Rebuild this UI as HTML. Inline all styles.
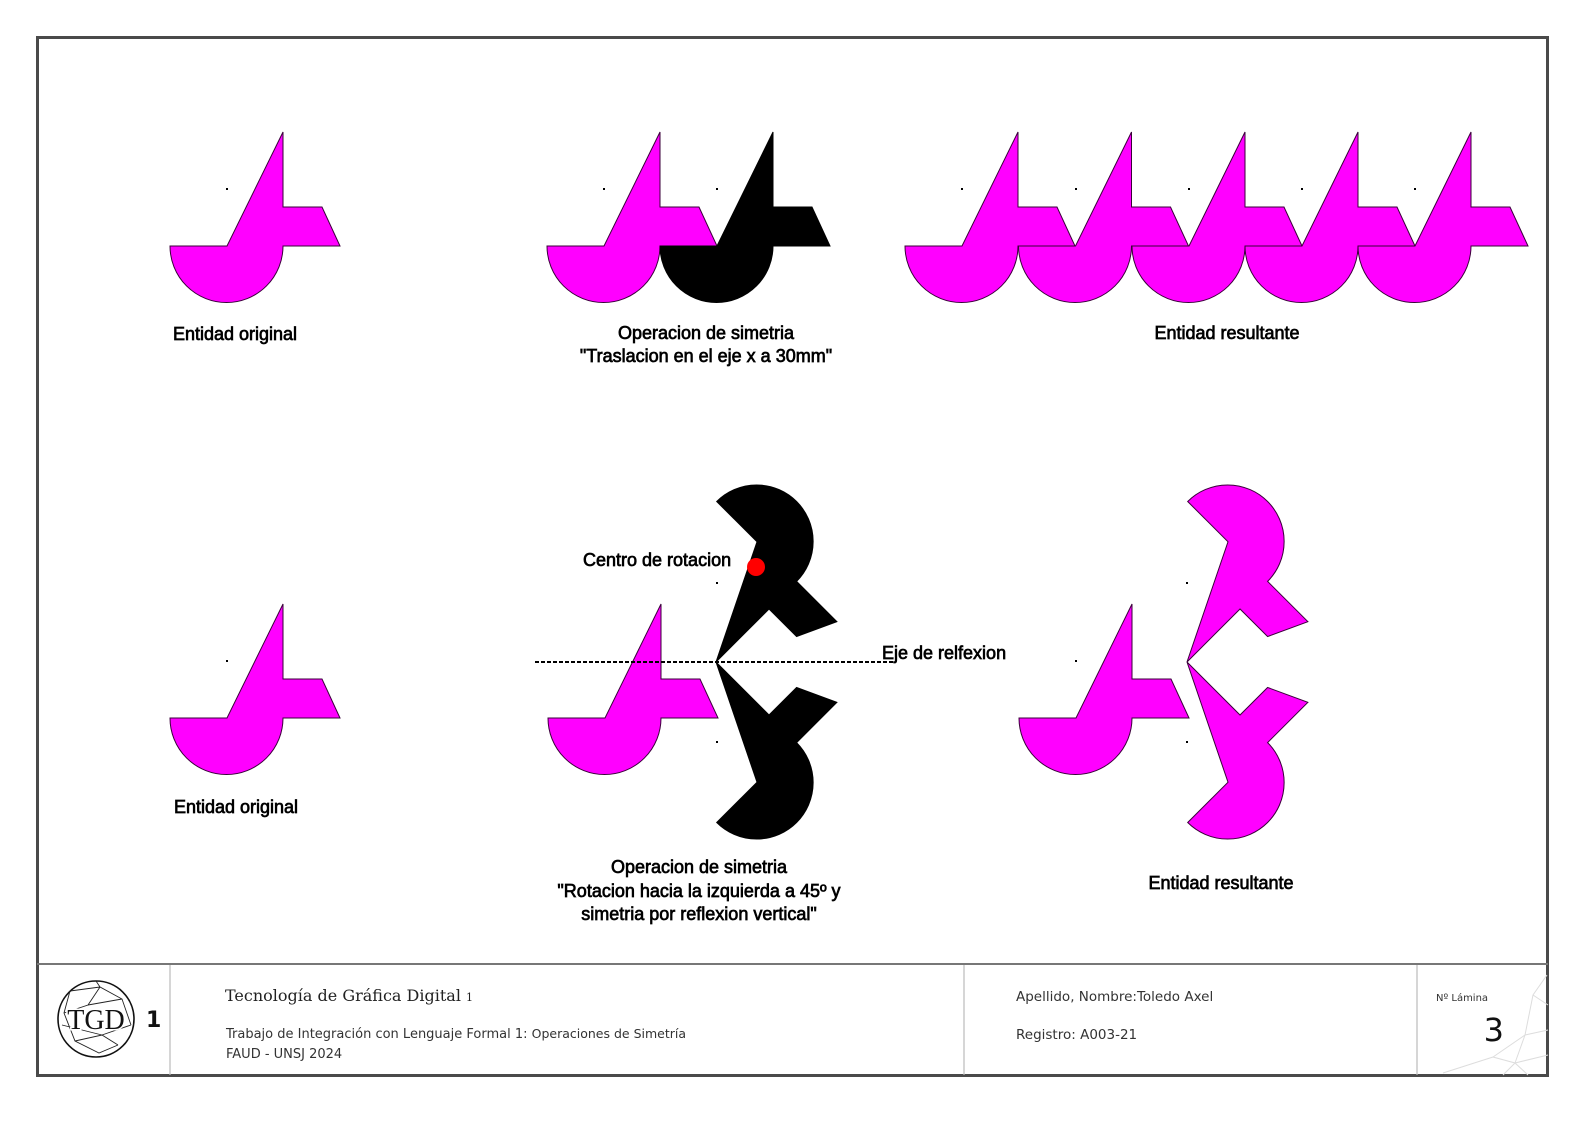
<!DOCTYPE html>
<html><head><meta charset="utf-8"><style>
html,body{margin:0;padding:0;background:#fff;}
svg{display:block;}
.lb{font-family:"Liberation Sans",Arial,sans-serif;font-size:18px;fill:#000;stroke:#000;stroke-width:0.7;}
.tb{font-family:"DejaVu Sans",Verdana,sans-serif;fill:#333;}
</style></head><body>
<svg width="1587" height="1123" viewBox="0 0 1587 1123" xmlns="http://www.w3.org/2000/svg">
<defs>
<path id="s" d="M-57,0 L0,0 L56,-114 L56,-39 L95,-39 L113,0 L56,0 A56.5,56.5 0 0 1 -57,0 Z"/>
</defs>
<rect x="37.5" y="37.5" width="1510" height="1038" fill="none" stroke="#4a4a4a" stroke-width="3"/>
<line x1="37" y1="964" x2="1548" y2="964" stroke="#777" stroke-width="2"/>
<line x1="170" y1="965" x2="170" y2="1075" stroke="#bbb" stroke-width="1.2"/>
<line x1="964" y1="965" x2="964" y2="1075" stroke="#bbb" stroke-width="1.2"/>
<line x1="1417" y1="965" x2="1417" y2="1075" stroke="#bbb" stroke-width="1.2"/>

<g fill="#ff00ff" stroke="#3a003a" stroke-width="1">
<use href="#s" transform="translate(227,246)"/>
<use href="#s" transform="translate(604,246)"/>
<use href="#s" transform="translate(962,246)"/>
<use href="#s" transform="translate(1075.5,246)"/>
<use href="#s" transform="translate(1189,246)"/>
<use href="#s" transform="translate(1302,246)"/>
<use href="#s" transform="translate(1415,246)"/>
<use href="#s" transform="translate(227,718)"/>
<use href="#s" transform="translate(605,718)"/>
<use href="#s" transform="translate(1076,718)"/>
<use href="#s" transform="matrix(.707 .707 .707 -.707 1228 541.8)"/>
<use href="#s" transform="matrix(.707 -.707 .707 .707 1228 782.2)"/>
</g>
<g fill="#000" stroke="#000" stroke-width="1">
<use href="#s" transform="translate(717,246)"/>
<use href="#s" transform="matrix(.707 .707 .707 -.707 757 541.8)"/>
<use href="#s" transform="matrix(.707 -.707 .707 .707 757 782.2)"/>
</g>
<line x1="535" y1="662" x2="895" y2="662" stroke="#000" stroke-width="2" stroke-dasharray="4,2"/>
<circle cx="756" cy="567" r="9" fill="#ff0000"/>
<g fill="#000">
<rect x="226" y="188" width="2" height="2"/><rect x="603" y="188" width="2" height="2"/><rect x="716" y="188" width="2" height="2"/>
<rect x="961" y="188" width="2" height="2"/><rect x="1075" y="188" width="2" height="2"/><rect x="1188" y="188" width="2" height="2"/><rect x="1301" y="188" width="2" height="2"/><rect x="1414" y="188" width="2" height="2"/>
<rect x="226" y="660" width="2" height="2"/><rect x="1075" y="660" width="2" height="2"/>
<rect x="716" y="582" width="2" height="2"/><rect x="716" y="741" width="2" height="2"/>
<rect x="1186" y="582" width="2" height="2"/><rect x="1186" y="741" width="2" height="2"/>
</g>

<g class="lb" text-anchor="middle">
<text x="235" y="340">Entidad original</text>
<text x="706" y="339">Operacion de simetria</text>
<text x="706" y="362">"Traslacion en el eje x a 30mm"</text>
<text x="1227" y="339">Entidad resultante</text>
<text x="236" y="813">Entidad original</text>
<text x="699" y="873">Operacion de simetria</text>
<text x="699" y="897">"Rotacion hacia la izquierda a 45º y</text>
<text x="699" y="920">simetria por reflexion vertical"</text>
<text x="1221" y="889">Entidad resultante</text>
</g>
<text class="lb" x="583" y="566">Centro de rotacion</text>
<text class="lb" x="882" y="659">Eje de relfexion</text>

<g fill="none" stroke="#111" stroke-width="1.6">
<circle cx="96" cy="1019" r="38"/>
</g>
<g fill="none" stroke="#222" stroke-width="0.9" transform="translate(0,-5)">
<path d="M70,996 L100,992 L122,1004 L131,1030 M70,996 L64,1018 L75,1046 L99,1058 L118,1050 M100,992 L88,1010 L64,1018 M88,1010 L122,1004 M75,1046 L102,1040 L118,1050 M102,1040 L131,1030 M62,1030 L102,1040 M96,986 L100,992"/>
</g>
<text x="96" y="1029" text-anchor="middle" font-family="Liberation Serif,serif" font-size="28" fill="#111" stroke="#fff" stroke-width="3" paint-order="stroke">TGD</text>
<text x="146" y="1027" font-family="DejaVu Sans,sans-serif" font-weight="bold" font-size="22" fill="#111">1</text>
<text x="225" y="1001" font-family="DejaVu Serif,'Liberation Serif',serif" font-size="16" fill="#222">Tecnología de Gráfica Digital <tspan font-size="11">1</tspan></text>
<text class="tb" x="226" y="1038" font-size="13">Trabajo de Integración con Lenguaje Formal 1: <tspan font-size="12.5">Operaciones de Simetría</tspan></text>
<text class="tb" x="226" y="1058" font-size="13">FAUD - UNSJ 2024</text>
<text class="tb" x="1016" y="1001" font-size="13.5">Apellido, Nombre:Toledo Axel</text>
<text class="tb" x="1016" y="1039" font-size="13.5">Registro: A003-21</text>
<text class="tb" x="1436" y="1001" font-size="10">Nº Lámina</text>
<text x="1504" y="1041" text-anchor="end" font-family="DejaVu Sans,sans-serif" font-size="32" fill="#111">3</text>
<g fill="none" stroke="#ddd" stroke-width="1" transform="translate(3,-5)">
<path d="M1544,980 L1530,1000 L1522,1040 L1512,1068 L1545,1060 M1530,1000 L1545,1010 M1522,1040 L1545,1035 M1522,1040 L1490,1062 L1512,1068 L1525,1080 M1490,1062 L1440,1078 M1512,1068 L1500,1080"/>
</g>
</svg>
</body></html>
